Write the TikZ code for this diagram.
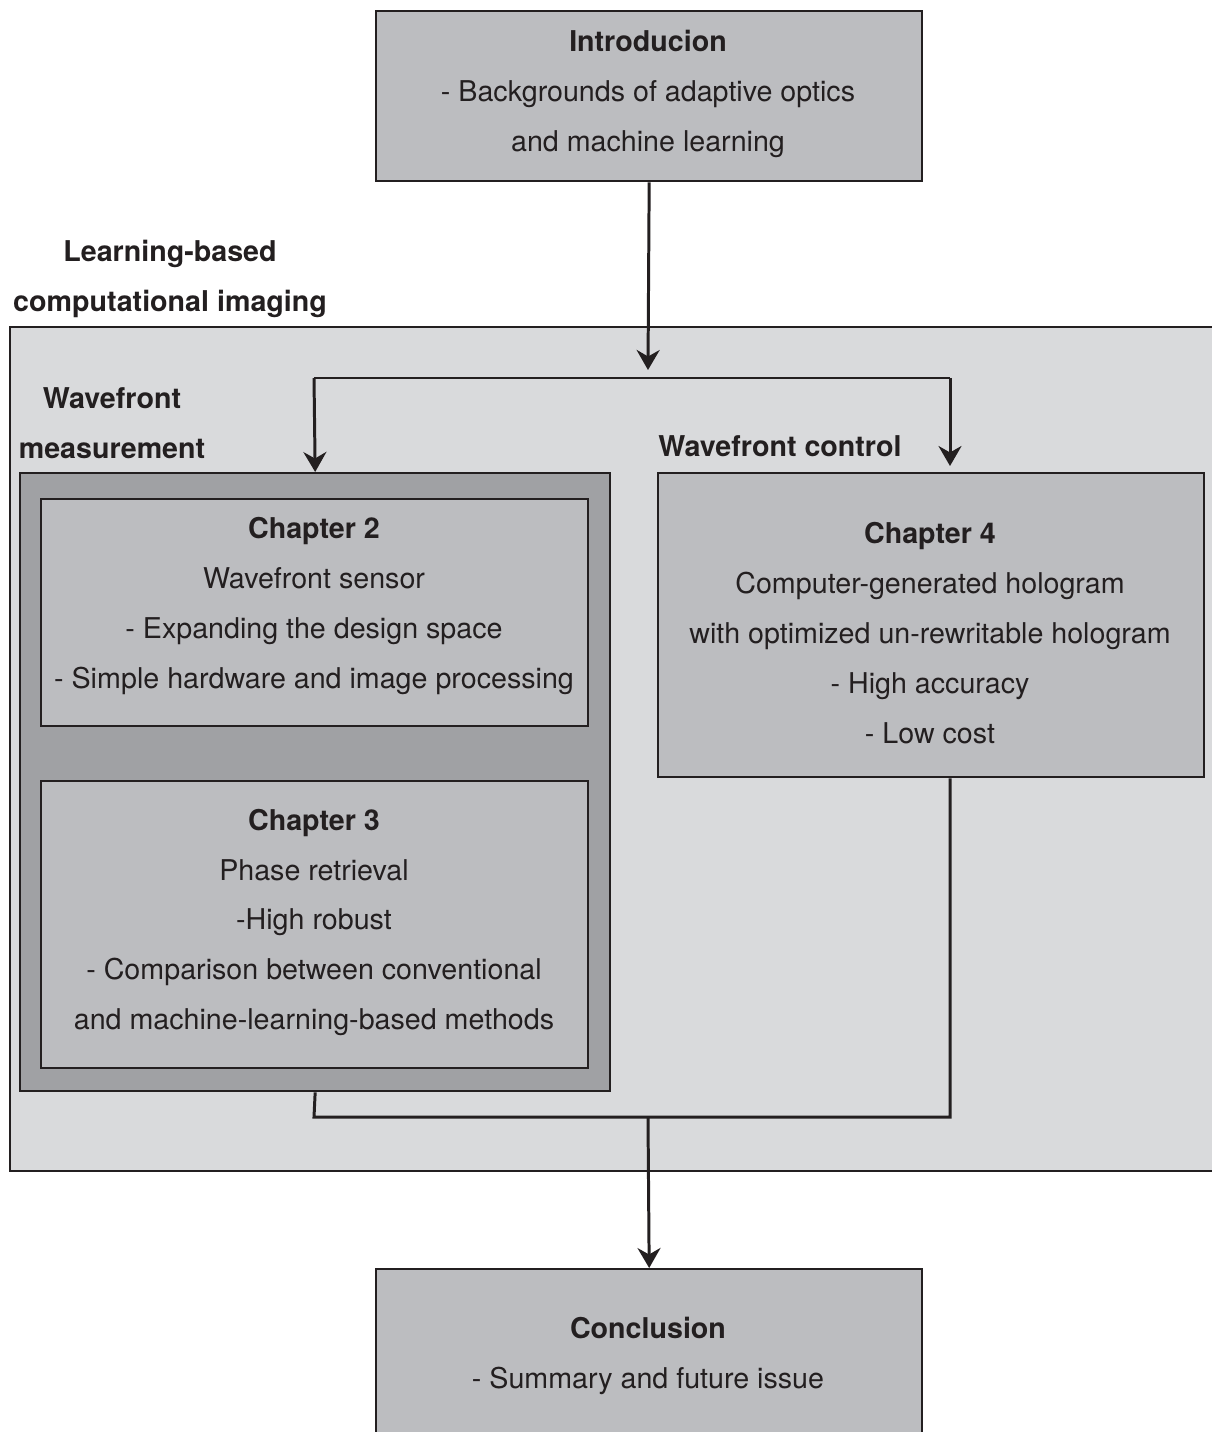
\documentclass[tikz,border=0pt]{standalone}
\usepackage{fontspec}
\setmainfont{TeX Gyre Heros}
\usetikzlibrary{arrows.meta,positioning}
\definecolor{wfink}{HTML}{231F20}
\definecolor{wfbox}{HTML}{BCBDC0}
\definecolor{wfpale}{HTML}{D9DADC}
\definecolor{wfdark}{HTML}{A0A1A4}
\tikzset{
  wf text/.style={font=\fontsize{16.3}{28.45}\selectfont, text=wfink},
  wf region/.style={draw=wfink, line width=1.4pt, fill=wfpale},
  wf group/.style={draw=wfink, line width=1.4pt, fill=wfdark},
  wf box/.style={draw=wfink, line width=1.4pt, fill=wfbox},
  wf body/.style={align=center, inner sep=0pt},
  wf label/.style={font=\fontsize{16.3}{28.45}\selectfont\bfseries, text=wfink, align=center, inner sep=0pt},
  wf line/.style={draw=wfink, line width=1.7pt},
  wf arrow/.style={wf line, -{Stealth[length=0.4cm,width=0.46cm,inset=0.13cm]}}
}
\begin{document}
\begin{tikzpicture}[wf text, x=0.02cm, y=-0.02cm]
  \useasboundingbox (0,0) rectangle (1212,1432);
  \clip (0,0) rectangle (1212,1432);
  % shaded area of the learning-based part
  \node[wf region, anchor=north west, minimum width=24.42cm, minimum height=16.88cm] (region) at (9,326) {};
  \node[wf group, anchor=north west, minimum width=11.8cm, minimum height=12.36cm] (meas) at (19,472) {};
  % boxes
  \node[wf box, anchor=north west, minimum width=10.92cm, minimum height=3.4cm] (intro) at (375,10) {};
  \node[wf box, anchor=north west, minimum width=10.94cm, minimum height=4.54cm] (ch2) at (40,498) {};
  \node[wf box, anchor=north west, minimum width=10.94cm, minimum height=5.74cm] (ch3) at (40,780) {};
  \node[wf box, anchor=north west, minimum width=10.92cm, minimum height=6.08cm] (ch4) at (657,472) {};
  \node[wf box, anchor=north west, minimum width=10.92cm, minimum height=3.4cm] (concl) at (375,1268) {};
  % box texts
  \node[wf body] (intro text) at (648,93.5) {\textbf{Introducion}\\- Backgrounds of adaptive optics\\and machine learning};
  \node[wf body] (ch2 text) at (314,606) {\textbf{Chapter 2}\\Wavefront sensor\\- Expanding the design space\\- Simple hardware and image processing};
  \node[wf body] (ch3 text) at (314,922.5) {\textbf{Chapter 3}\\Phase retrieval\\-High robust\\- Comparison between conventional\\and machine-learning-based methods};
  \node[wf body] (ch4 text) at (930,633) {\textbf{Chapter 4}\\Computer-generated hologram\\with optimized un-rewritable hologram\\- High accuracy\\- Low cost};
  \node[wf body] (concl text) at (648,1356) {\textbf{Conclusion}\\- Summary and future issue};
  % group labels
  \node[wf label] (lbc) at (170,279) {Learning-based\\computational imaging};
  \node[wf label] (wfm) at (112,423) {Wavefront\\measurement};
  \node[wf label] (wfc) at (780,446) {Wavefront control};
  % connectors
  \coordinate (split tip) at (648,370);
  \coordinate (split L) at (314,378);
  \coordinate (split R) at (950,378);
  \coordinate (ch4 in) at (950,466);
  \coordinate (join L) at (314,1117);
  \coordinate (join M) at (648,1117);
  \coordinate (join R) at (950,1117);
  \draw[wf arrow] (intro.south) -- (split tip);
  \draw[wf line] (split L) -- (split R);
  \draw[wf arrow] (split L) -- (meas.north);
  \draw[wf arrow] (split R) -- (ch4 in);
  \draw[wf line] (meas.south) -- (join L) -- (join R) -- (ch4.south -| join R);
  \draw[wf arrow] (join M) -- (concl.north);
\end{tikzpicture}
\end{document}
